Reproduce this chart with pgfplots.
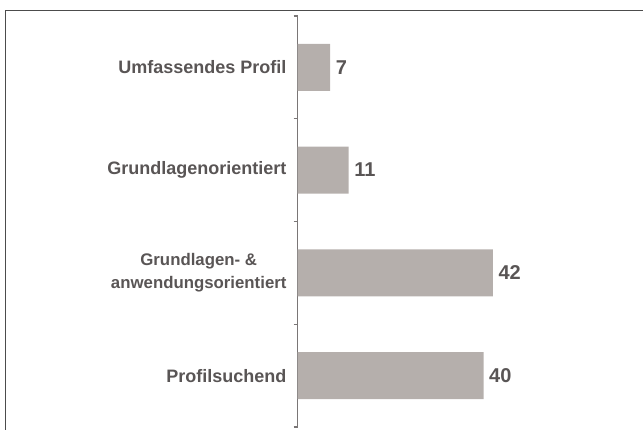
\documentclass[border=0pt]{standalone}
\usepackage{pgfplots}
\pgfplotsset{compat=1.18}
\usepackage{fontspec}
\setmainfont{Liberation Sans}
\definecolor{barfill}{HTML}{B5AFAC}
\definecolor{txt}{HTML}{595555}
\definecolor{axisgray}{HTML}{7A7676}

\begin{document}
\begin{tikzpicture}[x=1pt,y=1pt]
\useasboundingbox (0,0) rectangle (643,430);
% frame of the original figure
\draw[line width=1.2pt, color=black!70] (5.5,0) -- (5.5,419.5) -- (643,419.5);
\begin{axis}[
  at={(297.5pt,3pt)}, anchor=south west,
  scale only axis, width=232.5pt, height=411pt,
  xbar, bar width=47pt,
  xmin=0, xmax=50,
  ymin=-0.5, ymax=3.5,
  axis lines*=left,
  x axis line style={draw=none},
  y axis line style={draw=axisgray, line width=1.3pt},
  xtick=\empty,
  ytick={0,1,2,3},
  yticklabels={Profilsuchend, {\bfseries\fontsize{16.8}{23.5}\selectfont Grundlagen- \&\\\bfseries\fontsize{16.8}{23.5}\selectfont anwendungsorientiert}, Grundlagenorientiert, Umfassendes Profil},
  yticklabel style={align=center, font=\bfseries\fontsize{18}{23.5}\selectfont, text=txt, xshift=-7.5pt},
  major tick length=0pt,
  extra y ticks={-0.5,0.5,1.5,2.5,3.5},
  extra y tick labels={},
  extra y tick style={major tick length=4pt, tick align=outside,
    tick style={draw=axisgray, line width=1.2pt}},
  nodes near coords,
  every node near coord/.append style={font=\bfseries\fontsize{20}{24}\selectfont, text=txt,
    /pgf/number format/assume math mode=true, inner sep=0pt, xshift=5.5pt},
]
\addplot[fill=barfill, draw=none] coordinates {(40,0) (42,1) (11,2) (7,3)};
\end{axis}
\end{tikzpicture}
\end{document}
